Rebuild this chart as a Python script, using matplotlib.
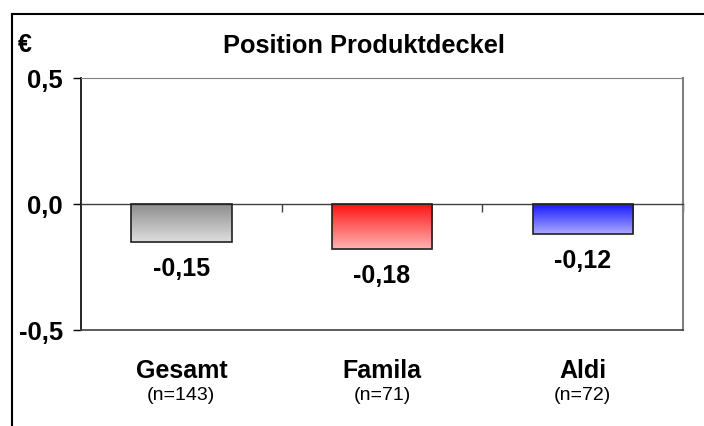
import matplotlib
matplotlib.use('Agg')
import matplotlib.pyplot as plt
import matplotlib.transforms as mtrans
from matplotlib.lines import Line2D
from matplotlib.colors import LinearSegmentedColormap
import numpy as np

plt.rcParams['font.family'] = ['Liberation Sans', 'DejaVu Sans']

categories = ['Gesamt', 'Famila', 'Aldi']
sample_sizes = ['(n=143)', '(n=71)', '(n=72)']
values = [-0.15, -0.18, -0.12]
value_labels = ['-0,15', '-0,18', '-0,12']
yticks = [-0.5, 0.0, 0.5]
ytick_labels = ['-0,5', '0,0', '0,5']
# top / bottom colour of each bar gradient
grad_top = ['#8e8e8e', '#ff1010', '#1414ff']
grad_bottom = ['#dedede', '#ffb4b4', '#aaaaff']

W, H = 704, 426
fig = plt.figure(figsize=(W / 100, H / 100), dpi=100)
ax = fig.add_axes([81 / W, 1 - 330 / H, (683 - 81) / W, (330 - 78) / H])

x = np.arange(len(categories))
bars = ax.bar(x, values, width=0.5, facecolor='none', edgecolor='#202020',
              linewidth=1.2, zorder=3)

# gradient fill clipped to each bar
grad = np.linspace(0, 1, 256).reshape(-1, 1)
for bar, c0, c1 in zip(bars, grad_top, grad_bottom):
    cmap = LinearSegmentedColormap.from_list('g', [c0, c1])
    x0, y0 = bar.get_x(), bar.get_y()
    w, h = bar.get_width(), bar.get_height()
    im = ax.imshow(grad, cmap=cmap, aspect='auto', origin='upper',
                   extent=[x0, x0 + w, min(y0, y0 + h), max(y0, y0 + h)],
                   zorder=2)
    im.set_clip_path(bar)

for xi, v, lab in zip(x, values, value_labels):
    ax.annotate(lab, (xi, v), xytext=(0, -24.5), textcoords='offset points',
                ha='center', va='baseline', fontsize=18, fontweight='bold')

ax.set_xlim(-0.5, 2.5)
ax.set_ylim(-0.5, 0.5)

# x axis sits on the zero line, ticks at category boundaries
ax.spines['bottom'].set_position(('data', 0))
ax.spines['bottom'].set_color('#404040')
ax.spines['bottom'].set_linewidth(1)
ax.set_xticks([0.5, 1.5, 2.5])
ax.set_xticklabels([])
ax.tick_params(axis='x', direction='out', length=5.5, width=1, color='#404040')
ax.axhline(-0.5, color='#404040', linewidth=1.2, clip_on=False, zorder=4)

ax.spines['top'].set_color('#808080')
ax.spines['right'].set_color('#808080')
ax.spines['right'].set_linewidth(1.5)
ax.spines['left'].set_color('black')
ax.spines['left'].set_linewidth(1.2)

ax.set_yticks(yticks)
ax.set_yticklabels(ytick_labels, fontsize=18.5, fontweight='bold')
ax.tick_params(axis='y', direction='out', length=6, width=1, pad=7)

# category labels below the plot
trans = mtrans.blended_transform_factory(ax.transData, fig.transFigure)
for xi, cat, n in zip(x, categories, sample_sizes):
    ax.text(xi, 1 - 378 / H, cat, transform=trans, ha='center', va='baseline',
            fontsize=18, fontweight='bold')
    ax.text(xi, 1 - 400 / H, n, transform=trans, ha='center', va='baseline',
            fontsize=14)

fig.text(364 / W, 1 - 53 / H, 'Position Produktdeckel', ha='center',
         va='baseline', fontsize=18.3, fontweight='bold')
fig.text(18 / W, 1 - 52 / H, '€', ha='left', va='baseline',
         fontsize=18, fontweight='bold')

# outer frame (left and top edges)
fig.add_artist(Line2D([12 / W, 12 / W], [0, 1 - 14 / H], color='black',
                      linewidth=1.5, transform=fig.transFigure))
fig.add_artist(Line2D([12 / W, 1], [1 - 14 / H, 1 - 14 / H], color='black',
                      linewidth=1.5, transform=fig.transFigure))

fig.savefig('out.png', dpi=100)
